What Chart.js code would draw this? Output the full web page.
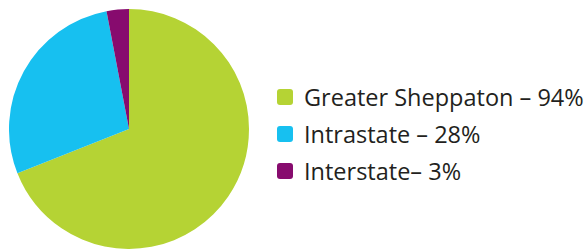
<!DOCTYPE html>
<html>
<head>
<meta charset="utf-8">
<script src="https://cdn.jsdelivr.net/npm/chart.js@4.4.0/dist/chart.umd.min.js"></script>
<style>
  html, body { margin: 0; padding: 0; background: #fff; }
  body { width: 588px; height: 251px; position: relative; overflow: hidden; font-family: 'Open Sans', sans-serif; }
  #pieBox { position: absolute; left: 9px; top: 9px; width: 240px; height: 240px; }
  #legend { position: absolute; left: 277px; top: 78px; }
  .row { display: flex; align-items: center; height: 37px; font-size: 23.5px; color: #231f20; white-space: nowrap; }
  .sw { width: 16px; height: 16px; border-radius: 3px; margin-right: 11px; }
</style>
</head>
<body>
<div id="pieBox"><canvas id="pie"></canvas></div>
<div id="legend"></div>
<script>
const categories = ['Greater Sheppaton', 'Intrastate', 'Interstate'];
const shares = [69, 28, 3];
const legendLabels = ['Greater Sheppaton – 94%', 'Intrastate – 28%', 'Interstate– 3%'];
const colors = ['#b5d334', '#17c0f0', '#870b6e'];

new Chart(document.getElementById('pie').getContext('2d'), {
    type: 'pie',
    data: {
        labels: categories,
        datasets: [{
            data: shares,
            backgroundColor: colors,
            borderWidth: 0
        }]
    },
    options: {
        responsive: true,
        maintainAspectRatio: false,
        animation: false,
        layout: { padding: 0 },
        plugins: {
            legend: { display: false },
            tooltip: { enabled: false }
        }
    }
});

const legend = document.getElementById('legend');
legendLabels.forEach((text, i) => {
    const row = document.createElement('div');
    row.className = 'row';
    row.innerHTML = `<div class="sw" style="background:${colors[i]}"></div><span>${text}</span>`;
    legend.appendChild(row);
});
</script>
</body>
</html>
